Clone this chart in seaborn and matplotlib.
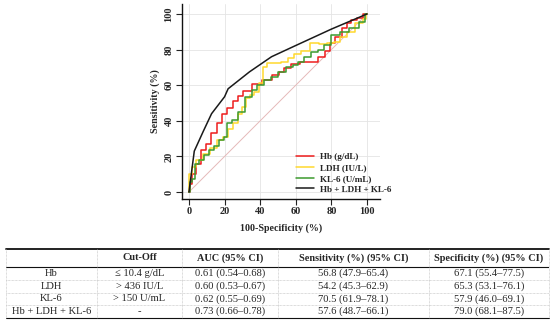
import numpy as np
import pandas as pd
import matplotlib
matplotlib.use('Agg')
import matplotlib.pyplot as plt
import seaborn as sns

sns.set_style('white')
plt.rcParams['font.family'] = ['Liberation Serif', 'DejaVu Serif']

# ROC curves (100-specificity, sensitivity)
hb_fpr = [0, 1, 2.4, 5.3, 8, 11, 13.7, 17.4, 19.7, 23, 26, 28.7, 32.5, 38, 44, 49, 52, 55, 60, 64.4, 70, 74.5, 78, 80, 84, 87.6, 89.5, 93, 96, 100]
hb_tpr = [0, 4.7, 10, 16, 23.5, 27, 33, 38.5, 44, 47, 51, 54, 57, 60.5, 63, 66, 67.6, 69.5, 72, 73, 73, 76, 79, 83.5, 87, 92, 94.7, 96.5, 97.5, 100]

ldh_fpr = [0, 0.5, 2.4, 6, 10, 13.7, 17.4, 21, 23, 26, 28.7, 30.6, 33.4, 35.3, 38, 40.8, 42.7, 44.6, 49, 54, 57, 61.4, 65, 70.8, 75.6, 80, 83, 87, 90.6, 96, 99, 100]
ldh_tpr = [0, 10, 14, 18, 21.6, 25, 29, 31, 35.6, 38.5, 44, 47.8, 52.6, 54.5, 56, 61, 70.4, 72.3, 72.5, 73, 75.5, 77.5, 79, 83.5, 83, 83.5, 84.4, 87, 90, 94.7, 97, 100]

kl6_fpr = [0, 1, 2.4, 4.3, 7, 10, 12.8, 15.6, 18.4, 21, 22, 25.8, 29.6, 33.3, 37, 40, 44.6, 47.5, 52, 56.8, 59.6, 63.3, 66, 70.8, 73.7, 78, 82, 87.6, 92.5, 98, 100]
kl6_tpr = [0, 5.6, 7.5, 16, 17.8, 20.6, 23.5, 26, 29, 31, 38.5, 40.4, 45, 53.5, 57.3, 60, 63, 64.5, 67.6, 70.4, 71.3, 73, 76, 78.8, 79.7, 82.6, 88, 90, 92, 95.5, 100]

comb_fpr = [0, 3, 8, 12.7, 20, 22, 34, 46.4, 60, 80, 100]
comb_tpr = [0, 23, 34, 44, 53.5, 58, 67.5, 76, 82.3, 91.5, 100]

series_names = ['Hb (g/dL)', 'LDH (IU/L)', 'KL-6 (U/mL)', 'Hb + LDH + KL-6']
series_colors = ['#ee1c1c', '#ffd92e', '#3c9a2e', '#1a1a1a']

# table contents
row_names = ['Hb', 'LDH', 'KL-6', 'Hb + LDH + KL-6']
col_names = ['', 'Cut-Off', 'AUC (95% CI)', 'Sensitivity (%) (95% CI)', 'Specificity (%) (95% CI)']
cutoffs = ['\u2264 10.4 g/dL', '> 436 IU/L', '> 150 U/mL', '-']
aucs = ['0.61 (0.54\u20130.68)', '0.60 (0.53\u20130.67)', '0.62 (0.55\u20130.69)', '0.73 (0.66\u20130.78)']
sens = ['56.8 (47.9\u201365.4)', '54.2 (45.3\u201362.9)', '70.5 (61.9\u201378.1)', '57.6 (48.7\u201366.1)']
spec = ['67.1 (55.4\u201377.5)', '65.3 (53.1\u201376.1)', '57.9 (46.0\u201369.1)', '79.0 (68.1\u201387.5)']

fig = plt.figure(figsize=(5.5, 3.26), dpi=100)
ax = fig.add_axes([182/550, 127/326, 198/550, 195/326])

ax.grid(True, color='#e4e4e4', lw=0.6)
ax.set_axisbelow(True)
ax.plot([0, 100], [0, 100], color='#e5b9b9', lw=0.7)

curves = [(hb_fpr, hb_tpr), (ldh_fpr, ldh_tpr), (kl6_fpr, kl6_tpr), (comb_fpr, comb_tpr)]
for i, (fx, ty) in enumerate(curves):
    df = pd.DataFrame({'fpr': fx, 'tpr': ty})
    ds = 'steps-mid' if i < 3 else 'default'
    sns.lineplot(data=df, x='fpr', y='tpr', ax=ax, color=series_colors[i], lw=1.1,
                 estimator=None, sort=False, drawstyle=ds, label=series_names[i])

ax.set_xlim(-3.9, 107.3)
ax.set_ylim(-3.9, 105.6)
ax.set_xticks(range(0, 101, 20))
ax.set_yticks(range(0, 101, 20))
for lab in ax.get_xticklabels() + ax.get_yticklabels():
    lab.set_fontweight('bold')
ax.tick_params(axis='both', labelsize=7.5, length=4, width=0.8, color='#222', pad=2, left=True, bottom=True)
ax.tick_params(axis='y', labelrotation=90)
for lab in ax.get_yticklabels():
    lab.set_va('center')
sns.despine(ax=ax)
ax.spines['left'].set_linewidth(1.0)
ax.spines['bottom'].set_linewidth(1.0)
ax.spines['left'].set_color('#111')
ax.spines['bottom'].set_color('#111')
ax.set_xlabel('100-Specificity (%)', fontsize=7.2, fontweight='bold', labelpad=5)
ax.set_ylabel('Sensitivity (%)', fontsize=7.2, fontweight='bold', labelpad=3)

leg = ax.legend(loc='upper left', bbox_to_anchor=(296/550, 1 - 153/326), bbox_transform=fig.transFigure,
                frameon=False, fontsize=6.6, handlelength=2.0, handletextpad=0.6, labelspacing=0.25,
                borderaxespad=0, borderpad=0)
for t in leg.get_texts():
    t.set_fontweight('bold')

# table drawn in its own axes
tx0, tx1, ty0, ty1 = 6, 549, 248, 318
tw, th = tx1 - tx0, ty1 - ty0
tax = fig.add_axes([tx0/550, (326 - ty1)/326, tw/550, th/326])
tax.set_xlim(0, tw)
tax.set_ylim(th, 0)
tax.axis('off')
bounds = [0, 91, 176, 272, 423, tw]
header_h = 19
row_h = (th - header_h) / 4

fs = 7.6
for j, name in enumerate(col_names):
    xc = (bounds[j] + bounds[j + 1]) / 2
    tax.text(xc, header_h / 2 + 0.5, name, ha='center', va='center', fontsize=fs - 0.2, fontweight='bold')
columns = [row_names, cutoffs, aucs, sens, spec]
for i in range(4):
    yc = header_h + row_h * (i + 0.5)
    for j, col in enumerate(columns):
        xc = (bounds[j] + bounds[j + 1]) / 2
        tax.text(xc, yc, col[i], ha='center', va='center', fontsize=fs)

tax.plot([0, tw], [0.5, 0.5], color='#111', lw=1.3, clip_on=False)
tax.plot([0, tw], [header_h, header_h], color='#111', lw=0.8)
for i in range(1, 4):
    y = header_h + row_h * i
    tax.plot([0, tw], [y, y], color='#bbbbbb', lw=0.5, ls=(0, (1, 1)))
tax.plot([0, tw], [th - 0.5, th - 0.5], color='#111', lw=0.8, clip_on=False)
for b in bounds:
    tax.plot([b, b], [0.5, th - 0.5], color='#bbbbbb', lw=0.5, ls=(0, (1, 1)), clip_on=False)

fig.savefig('out.png', dpi=100)
